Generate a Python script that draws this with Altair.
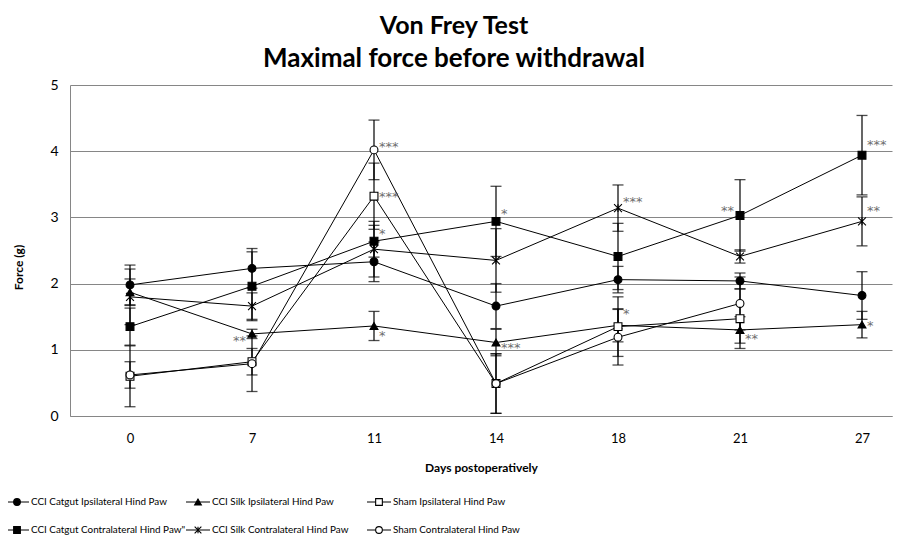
import altair as alt
import pandas as pd

days = ["0", "7", "11", "14", "18", "21", "27"]
series_names = [
    "CCI Catgut Ipsilateral Hind Paw",
    "CCI Silk Ipsilateral Hind Paw",
    "Sham Ipsilateral Hind Paw",
    "CCI Catgut Contralateral Hind Paw\"",
    "CCI Silk Contralateral Hind Paw",
    "Sham Contralateral Hind Paw",
]
catgut_ipsi = [1.98, 2.23, 2.33, 1.66, 2.06, 2.04, 1.82]
catgut_ipsi_err = [0.30, 0.30, 0.30, 0.34, 0.20, 0.12, 0.36]
silk_ipsi = [1.87, 1.24, 1.36, 1.11, 1.37, 1.30, 1.38]
silk_ipsi_err = [0.20, 0.07, 0.22, 0.20, 0.25, 0.20, 0.20]
sham_ipsi = [0.60, 0.82, 3.32, 0.49, 1.35, 1.47, None]
sham_ipsi_err = [0.46, 0.20, 0.50, 0.45, 0.45, 0.45, None]
catgut_contra = [1.35, 1.96, 2.64, 2.94, 2.41, 3.03, 3.94]
catgut_contra_err = [0.28, 0.52, 0.24, 0.53, 0.50, 0.54, 0.60]
silk_contra = [1.80, 1.66, 2.52, 2.35, 3.14, 2.41, 2.94]
silk_contra_err = [0.42, 0.20, 0.42, 0.48, 0.35, 0.10, 0.37]
sham_contra = [0.62, 0.79, 4.02, 0.49, 1.19, 1.70, None]
sham_contra_err = [0.20, 0.42, 0.45, 0.45, 0.42, 0.40, None]

all_values = [catgut_ipsi, silk_ipsi, sham_ipsi, catgut_contra, silk_contra, sham_contra]
all_errs = [catgut_ipsi_err, silk_ipsi_err, sham_ipsi_err,
            catgut_contra_err, silk_contra_err, sham_contra_err]

marker_shapes = ["circle", "triangle-up", "square", "square",
                 "M-1,-1L1,1M-1,1L1,-1M0,-1L0,1", "circle"]
marker_fills = ["black", "black", "white", "black", "black", "white"]

ann_days = ["7", "11", "11", "11", "11", "14", "14", "18", "18", "21", "21", "27", "27", "27"]
ann_values = [1.17, 4.09, 3.34, 2.78, 1.24, 3.08, 1.05, 3.26, 1.57, 3.13, 1.19, 4.13, 3.12, 1.39]
ann_texts = ["**", "***", "***", "*", "*", "*", "***", "***", "*", "**", "**", "***", "**", "*"]
ann_sides = ["left", "right", "right", "right", "right", "right", "right", "right", "right",
             "left", "right", "right", "right", "right"]

rows = []
for name, vals, errs in zip(series_names, all_values, all_errs):
    for i, (d, v, e) in enumerate(zip(days, vals, errs)):
        if v is None:
            continue
        rows.append({"di": i, "day": d, "series": name, "value": v, "lo": v - e, "hi": v + e})
df = pd.DataFrame(rows)

ann = pd.DataFrame({"di": [days.index(d) for d in ann_days], "value": ann_values,
                    "text": ann_texts, "side": ann_sides})

leg = pd.DataFrame({
    "series": series_names,
    "lcol": [i % 3 for i in range(len(series_names))],
    "lrow": [i // 3 for i in range(len(series_names))],
})

TXT = "Lato"
W, H = 822, 331

xscale = alt.Scale(domain=[-60 / 122, (W - 60) / 122], nice=False, zero=False)
yscale = alt.Scale(domain=[0, 5], nice=False)
shape_scale = alt.Scale(domain=series_names, range=marker_shapes)
fill_scale = alt.Scale(domain=series_names, range=marker_fills)

label_js = "[" + ",".join("'%s'" % d for d in days) + "][datum.value]"
X = alt.X("di:Q", scale=xscale,
          axis=alt.Axis(title="Days postoperatively", values=list(range(len(days))),
                        labelExpr=label_js, grid=False))
Xp = alt.X("di:Q", scale=xscale)
Y = alt.Y("value:Q", scale=yscale,
          axis=alt.Axis(title="Force (g)", values=[i * 0.5 for i in range(11)],
                        labelExpr="datum.value"))

base = alt.Chart(df)

lines = base.mark_line(color="black", strokeWidth=1).encode(x=X, y=Y, detail="series:N")
bars = base.mark_rule(color="black", strokeWidth=1.2).encode(
    x=Xp, y=alt.Y("lo:Q", scale=yscale), y2="hi:Q")
caps = base.transform_fold(["lo", "hi"], as_=["k", "cap"]).mark_tick(
    color="black", orient="horizontal", size=11, thickness=1.3).encode(
    x=Xp, y=alt.Y("cap:Q", scale=yscale))
points = base.mark_point(opacity=1, size=62, stroke="black", strokeWidth=1.1).encode(
    x=Xp, y=alt.Y("value:Q", scale=yscale),
    shape=alt.Shape("series:N", scale=shape_scale, legend=None),
    fill=alt.Fill("series:N", scale=fill_scale, legend=None),
)

ann_base = alt.Chart(ann)
ann_right = ann_base.transform_filter("datum.side == 'right'").mark_text(
    align="left", baseline="middle", dx=5, dy=2, font="DejaVu Sans", fontSize=13,
    color="#6e6e6e").encode(
    x=Xp, y=alt.Y("value:Q", scale=yscale), text="text:N")
ann_left = ann_base.transform_filter("datum.side == 'left'").mark_text(
    align="right", baseline="middle", dx=-6, dy=2, font="DejaVu Sans", fontSize=13,
    color="#6e6e6e").encode(
    x=Xp, y=alt.Y("value:Q", scale=yscale), text="text:N")

main = alt.layer(lines, bars, caps, points, ann_right, ann_left)

lx = alt.X("lcol:Q", scale=alt.Scale(domain=[0, 2], range=[-53, 309]), axis=None)
ly = alt.Y("lrow:Q", scale=alt.Scale(domain=[0, 1], range=[417, 445]), axis=None)
lbase = alt.Chart(leg)
lrule = lbase.mark_rule(color="black", strokeWidth=1, xOffset=-12, x2Offset=12).encode(
    x=lx, x2="lcol:Q", y=ly)
lpts = lbase.mark_point(opacity=1, size=45, stroke="black", strokeWidth=1.1).encode(
    x=lx, y=ly,
    shape=alt.Shape("series:N", scale=shape_scale, legend=None),
    fill=alt.Fill("series:N", scale=fill_scale, legend=None))
ltext = lbase.mark_text(align="left", baseline="middle", dx=14, font=TXT, fontSize=9.9,
                        color="black").encode(x=lx, y=ly, text="series:N")
legend = alt.layer(lrule, lpts, ltext)

chart = alt.layer(main, legend).resolve_scale(x="independent", y="independent").properties(
    width=W, height=H,
    autosize=alt.AutoSizeParams(type="none"),
    padding={"left": 62, "top": 77, "right": 9, "bottom": 120},
    title=alt.Title("Von Frey Test", subtitle="Maximal force before withdrawal",
                    font=TXT, fontSize=25, fontWeight="bold",
                    subtitleFont=TXT, subtitleFontSize=26, subtitleFontWeight="bold",
                    subtitleColor="black", subtitlePadding=7,
                    anchor="middle", dx=-27, offset=6, color="black"),
).configure_view(stroke=None).configure_axis(
    domainColor="#868686", ticks=False, labelColor="black", titleColor="black",
    labelFont=TXT, titleFont=TXT,
).configure_axisX(
    labelFontSize=13, labelPadding=16, titleFontSize=12, titleFontWeight="bold",
    titleY=46,
).configure_axisY(
    labelFontSize=14, labelPadding=12, titleFontSize=12, titleFontWeight="bold",
    grid=True, gridColor="#868686", gridWidth=1, titleX=-52, titleY=182, titleAngle=-90,
    titleBaseline="middle",
)

chart.save("out.html", embed_options={"renderer": "svg", "actions": False})
